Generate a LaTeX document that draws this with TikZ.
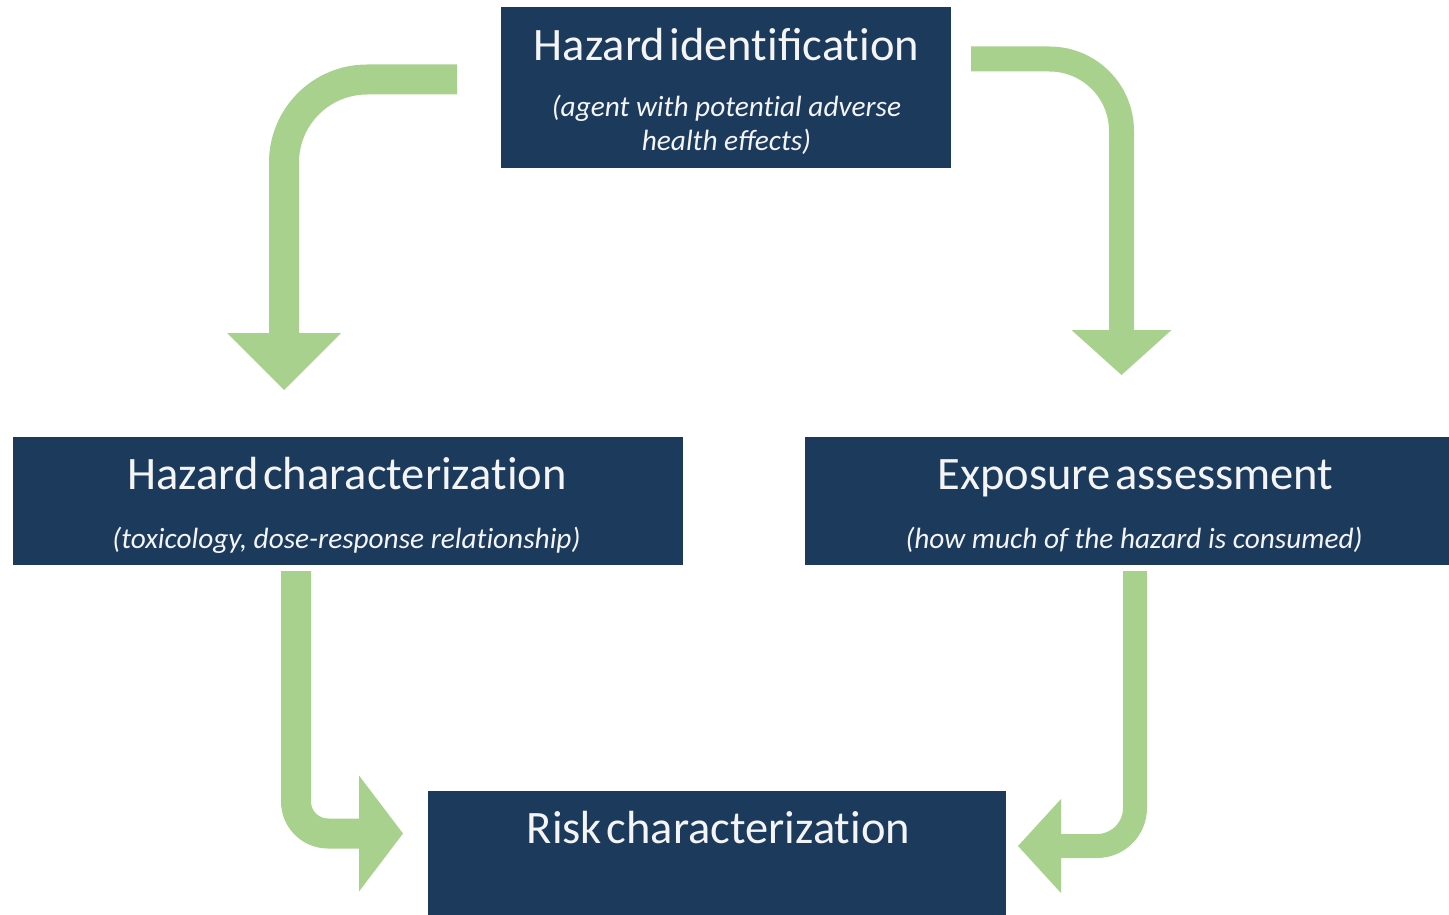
\documentclass[tikz,border=0pt]{standalone}
\usepackage{fontspec}
\setmainfont{Carlito}
\newfontfamily\headfont[WordSpace=0.45]{Carlito}
\newcommand\tI{t\kern0pt i}
\definecolor{navy}{HTML}{1B3A5C}
\definecolor{leaf}{HTML}{A9D18E}
\definecolor{paper}{HTML}{F4F4F4}
\begin{document}
\begin{tikzpicture}[x=1pt,y=-1pt,
  stage/.style={fill=navy, draw=none, inner sep=0pt, anchor=north west},
  headtxt/.style={text=paper, inner sep=0pt, anchor=base, font=\headfont\fontsize{46.5}{54}\selectfont},
  subtxt/.style={text=paper, inner sep=0pt, anchor=base, font=\itshape\fontsize{29.3}{34}\selectfont},
  flow/.style={draw=leaf, line cap=butt, line join=round},
  tip/.style={fill=leaf, draw=none}]
\useasboundingbox (0,0) rectangle (1449,915);

% the four stages
\node[stage, minimum width=450pt, minimum height=161pt] (hid) at (501,7) {};
\node[stage, minimum width=670pt, minimum height=128pt] (hch) at (13,437) {};
\node[stage, minimum width=644pt, minimum height=128pt] (exp) at (805,437) {};
\node[stage, minimum width=578pt, minimum height=124pt] (rch) at (428,791) {};

% stage texts
\node[headtxt] (hidT) at (726.5,61) {Hazard iden\tI fica\tI on};
\node[subtxt] (hidS1) at (726.5,117) {(agent with poten\tI al adverse};
\node[subtxt] (hidS2) at (726.5,151) {health effects)};
\node[headtxt] (hchT) at (347,489) {Hazard characteriza\tI on};
\node[subtxt] (hchS) at (346.5,548) {(toxicology, dose-response rela\tI onship)};
\node[headtxt] (expT) at (1135.5,489) {Exposure assessment};
\node[subtxt] (expS) at (1134,548) {(how much of the hazard is consumed)};
\node[headtxt] (rchT) at (718.5,843) {Risk characteriza\tI on};

% arrow ends
\coordinate (a1s) at (457,79.5);
\coordinate (a1c) at (284,79.5);
\coordinate (a1b) at (284,333);
\coordinate (a2s) at (971,59);
\coordinate (a2c) at (1121.5,59);
\coordinate (a2b) at (1121.5,330);
\coordinate (a3s) at (296,571);
\coordinate (a3c) at (296,833.5);
\coordinate (a3b) at (359,833.5);
\coordinate (a4s) at (1135,571);
\coordinate (a4c) at (1135,846);
\coordinate (a4b) at (1061,846);

% identification -> characterization
\draw[flow, line width=30pt, rounded corners=83pt] (a1s) -- (a1c) -- (a1b);
\fill[tip] ([xshift=-57pt]a1b) -- ([xshift=57pt]a1b) -- ([yshift=-57pt]a1b) -- cycle;
% identification -> exposure
\draw[flow, line width=25pt, rounded corners=72pt] (a2s) -- (a2c) -- (a2b);
\fill[tip] ([xshift=-50pt]a2b) -- ([xshift=50pt]a2b) -- ([yshift=-45pt]a2b) -- cycle;
% characterization -> risk
\draw[flow, line width=30pt, rounded corners=32pt] (a3s) -- (a3c) -- (a3b);
\fill[tip] ([yshift=-58pt]a3b) -- ([yshift=58pt]a3b) -- ([xshift=44pt]a3b) -- cycle;
% exposure -> risk
\draw[flow, line width=24pt, rounded corners=38pt] (a4s) -- (a4c) -- (a4b);
\fill[tip] ([yshift=-47pt]a4b) -- ([yshift=47pt]a4b) -- ([xshift=-43pt]a4b) -- cycle;
\end{tikzpicture}
\end{document}
